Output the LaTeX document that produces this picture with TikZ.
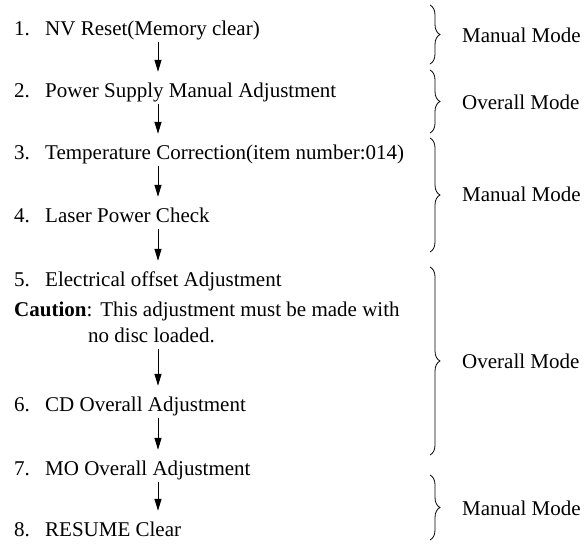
\documentclass[tikz,border=0pt]{standalone}
\usepackage{fontspec}
\setmainfont{Liberation Serif}
\usetikzlibrary{arrows.meta,decorations.pathreplacing}

\newcommand{\stepno}[1]{\makebox[31pt][l]{#1}}

\begin{document}
\begin{tikzpicture}[
    x=1pt, y=-1pt,
    item/.style={anchor=base west, inner sep=0pt, text height=14pt, text depth=4pt, font=\fontsize{21}{25}\selectfont},
    arr/.style={-{Triangle[length=12pt, width=7pt]}, line width=1pt, shorten <=3pt, shorten >=11pt},
    brc/.style={decorate, decoration={brace, amplitude=10pt}, line width=0.8pt}
]
\useasboundingbox (0,0) rectangle (585,543);
\coordinate (ax) at (158,0);

% procedure steps
\node[item] (s1) at (14,35) {\stepno{1.}NV Reset(Memory clear)};
\node[item] (s2) at (14,97) {\stepno{2.}Power Supply Manual Adjustment};
\node[item] (s3) at (14,159) {\stepno{3.}Temperature Correction(item number:014)};
\node[item] (s4) at (14,222) {\stepno{4.}Laser Power Check};
\node[item] (s5) at (14,286) {\stepno{5.}Electrical offset Adjustment};
\node[item] (caution) at (14,316) {\textbf{Caution}:\hspace{8pt}This adjustment must be made with};
\node[item] (nodisc) at (88,342) {no disc loaded.};
\node[item] (s6) at (14,411) {\stepno{6.}CD Overall Adjustment};
\node[item] (s7) at (14,475) {\stepno{7.}MO Overall Adjustment};
\node[item] (s8) at (14,536) {\stepno{8.}RESUME Clear};

\draw[arr] (s1.south -| ax) -- (s2.north -| ax);
\draw[arr] (s2.south -| ax) -- (s3.north -| ax);
\draw[arr] (s3.south -| ax) -- (s4.north -| ax);
\draw[arr] (s4.south -| ax) -- (s5.north -| ax);
\draw[arr] (nodisc.south -| ax) -- (s6.north -| ax);
\draw[arr] (s6.south -| ax) -- (s7.north -| ax);
\draw[arr] (s7.south -| ax) -- (s8.north -| ax);

% mode braces
\coordinate (b1t) at (430,5);   \coordinate (b1b) at (430,64);
\coordinate (b2t) at (430,70);  \coordinate (b2b) at (430,133);
\coordinate (b3t) at (430,138); \coordinate (b3b) at (430,252);
\coordinate (b4t) at (430,267); \coordinate (b4b) at (430,455);
\coordinate (b5t) at (430,475); \coordinate (b5b) at (430,540);
\draw[brc] (b1t) -- (b1b);
\draw[brc] (b2t) -- (b2b);
\draw[brc] (b3t) -- (b3b);
\draw[brc] (b4t) -- (b4b);
\draw[brc] (b5t) -- (b5b);

\node[item] (m1) at (462,43) {Manual Mode};
\node[item] (m2) at (462,109) {Overall Mode};
\node[item] (m3) at (462,201) {Manual Mode};
\node[item] (m4) at (462,368) {Overall Mode};
\node[item] (m5) at (462,515) {Manual Mode};
\end{tikzpicture}
\end{document}
